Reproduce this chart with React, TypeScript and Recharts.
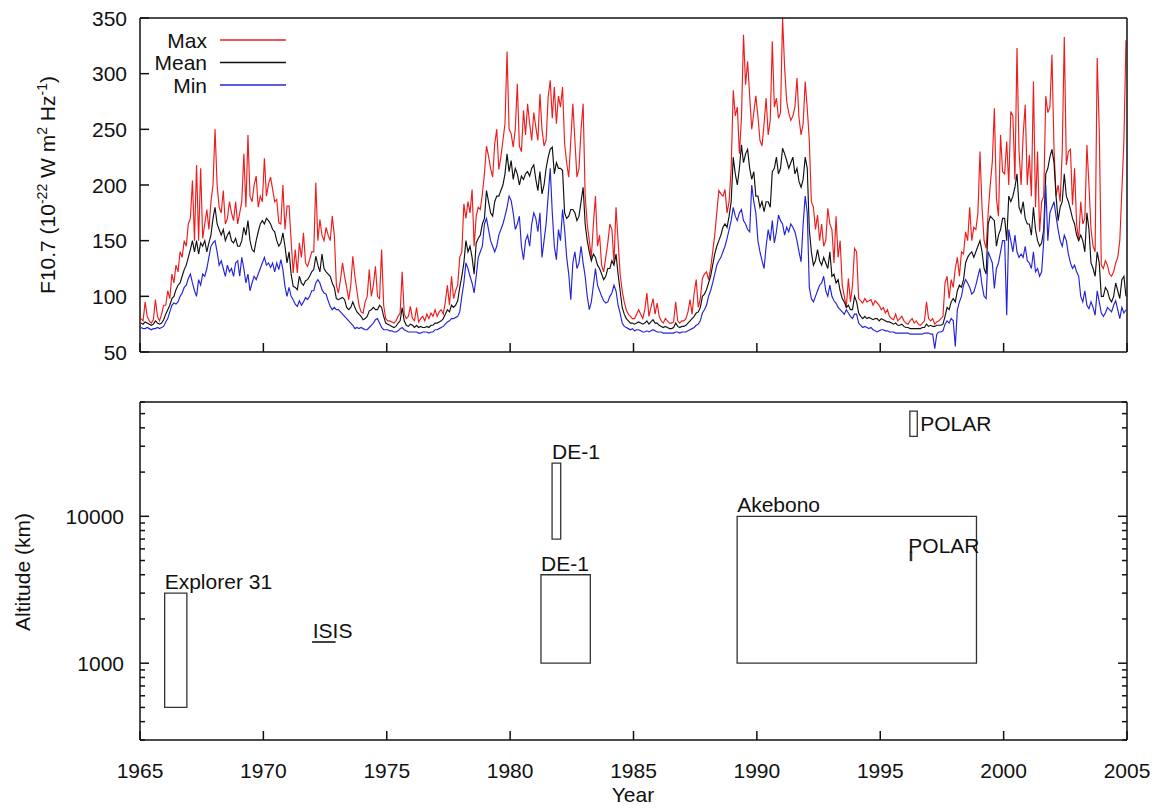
import React from 'react';
import { LineChart, Line, XAxis, YAxis, ComposedChart, ReferenceArea } from 'recharts';

const FONT = '"Liberation Sans", Arial, Helvetica, sans-serif';
const INK = '#111';

const yearTicks = [1965, 1970, 1975, 1980, 1985, 1990, 1995, 2000, 2005];
const fluxTicks = [50, 100, 150, 200, 250, 300, 350];
const altTicks = [
  300, 400, 500, 600, 700, 800, 900, 1000, 2000, 3000, 4000, 5000, 6000, 7000, 8000, 9000,
  10000, 20000, 30000, 40000, 50000, 60000,
];
const altLabelled = [1000, 10000];

// monthly F10.7, Jan 1965 .. Dec 2004, one row per year
const fMax = [
  80, 78, 95, 82, 78, 76, 79, 97, 82, 78, 84, 92, // 1965
  92, 105, 98, 120, 112, 128, 122, 140, 135, 150, 145, 165,
  170, 204, 150, 218, 150, 215, 152, 165, 178, 160, 185, 200,
  250, 200, 180, 175, 195, 165, 170, 185, 175, 168, 185, 165,
  175, 185, 228, 180, 245, 190, 185, 200, 208, 180, 190, 185,
  224, 190, 201, 207, 196, 185, 187, 166, 165, 200, 160, 181, // 1970
  181, 150, 121, 142, 121, 148, 135, 157, 130, 127, 133, 140,
  140, 202, 150, 169, 155, 150, 162, 155, 150, 172, 155, 110,
  103, 115, 130, 118, 108, 97, 110, 136, 118, 105, 92, 86,
  85, 95, 100, 124, 100, 110, 127, 100, 98, 142, 92, 80,
  78, 78, 77, 76, 78, 82, 85, 122, 84, 80, 82, 91, // 1975
  80, 78, 90, 77, 80, 82, 78, 84, 80, 85, 82, 88,
  82, 86, 88, 84, 95, 110, 92, 118, 98, 105, 110, 135,
  140, 183, 170, 185, 175, 196, 145, 172, 180, 178, 192, 210,
  235, 226, 215, 207, 237, 250, 214, 225, 240, 255, 320, 250,
  246, 234, 250, 291, 235, 230, 267, 245, 273, 255, 240, 265, // 1980
  252, 240, 282, 250, 235, 240, 279, 294, 260, 288, 255, 280,
  270, 288, 237, 220, 207, 240, 273, 240, 207, 215, 250, 273,
  190, 165, 150, 135, 165, 190, 145, 155, 128, 122, 135, 148,
  165, 160, 130, 180, 150, 120, 105, 95, 88, 84, 82, 80,
  80, 84, 88, 84, 80, 88, 103, 82, 90, 98, 84, 94, // 1985
  82, 78, 76, 80, 78, 76, 76, 77, 95, 78, 76, 78,
  78, 80, 86, 97, 84, 103, 115, 90, 98, 116, 120, 122,
  115, 125, 140, 155, 175, 195, 192, 190, 196, 175, 185, 215,
  285, 262, 270, 228, 260, 335, 290, 311, 280, 250, 265, 280,
  262, 240, 235, 255, 278, 245, 258, 329, 270, 278, 260, 265, // 1990
  350, 305, 275, 265, 258, 262, 270, 296, 260, 245, 255, 293,
  269, 240, 185, 180, 160, 173, 150, 165, 145, 150, 179, 165,
  160, 130, 172, 135, 150, 110, 100, 90, 116, 95, 110, 143,
  140, 98, 96, 94, 98, 95, 96, 97, 92, 96, 94, 92,
  88, 90, 85, 88, 82, 80, 79, 84, 78, 80, 82, 78, // 1995
  76, 75, 78, 80, 76, 78, 75, 74, 76, 78, 95, 80,
  78, 80, 75, 77, 78, 80, 82, 112, 118, 98, 115, 108,
  125, 135, 118, 140, 138, 158, 150, 180, 150, 162, 160, 175,
  230, 180, 150, 143, 176, 200, 221, 269, 188, 172, 245, 212,
  210, 239, 200, 266, 262, 205, 323, 230, 200, 245, 272, 200, // 2000
  227, 190, 293, 180, 230, 158, 185, 190, 280, 265, 270, 317,
  233, 190, 200, 185, 230, 333, 218, 230, 232, 182, 215, 165,
  150, 185, 165, 170, 236, 200, 160, 145, 140, 314, 250, 128,
  125, 132, 128, 120, 118, 122, 130, 135, 150, 195, 240, 330,
];

const fMean = [
  76, 75, 77, 76, 75, 74, 75, 78, 76, 75, 76, 79, // 1965
  84, 88, 92, 98, 100, 106, 110, 112, 118, 124, 128, 135,
  142, 150, 140, 150, 138, 148, 145, 150, 140, 148, 155, 170,
  180, 165, 160, 155, 160, 150, 155, 158, 150, 148, 152, 145,
  145, 150, 162, 155, 168, 150, 142, 140, 150, 158, 165, 168,
  165, 170, 168, 165, 160, 158, 150, 145, 148, 157, 145, 130, // 1970
  140, 120, 109, 108, 106, 118, 112, 110, 114, 115, 118, 122,
  124, 136, 128, 122, 138, 125, 122, 120, 118, 112, 108, 98,
  97, 98, 99, 97, 90, 88, 90, 95, 90, 86, 84, 82,
  79, 80, 82, 87, 88, 90, 88, 88, 92, 90, 82, 76,
  75, 74, 73, 72, 73, 76, 78, 90, 78, 74, 73, 75, // 1975
  74, 72, 74, 72, 73, 72, 72, 73, 72, 74, 74, 76,
  76, 77, 78, 80, 84, 88, 86, 92, 90, 92, 96, 108,
  118, 130, 150, 140, 145, 135, 120, 148, 152, 155, 165, 170,
  195, 185, 175, 172, 185, 190, 190, 195, 200, 210, 228, 212,
  222, 205, 215, 210, 200, 208, 205, 210, 212, 208, 215, 218, // 1980
  205, 195, 212, 192, 200, 215, 225, 232, 234, 210, 220, 215,
  215, 213, 175, 170, 172, 178, 178, 175, 168, 172, 185, 198,
  165, 150, 140, 132, 138, 135, 128, 125, 120, 115, 118, 125,
  125, 132, 128, 138, 120, 105, 90, 84, 80, 78, 76, 76,
  75, 76, 77, 76, 75, 76, 78, 75, 77, 79, 76, 76, // 1985
  74, 73, 72, 73, 72, 71, 71, 72, 76, 73, 72, 73,
  73, 74, 76, 78, 80, 82, 85, 86, 90, 100, 102, 106,
  112, 118, 128, 138, 145, 150, 155, 162, 165, 162, 172, 185,
  225, 210, 200, 215, 236, 220, 228, 232, 215, 205, 212, 190,
  190, 180, 185, 176, 185, 185, 180, 212, 215, 225, 210, 215, // 1990
  233, 228, 222, 215, 220, 225, 210, 215, 203, 198, 205, 225,
  215, 160, 140, 128, 132, 142, 132, 128, 135, 130, 125, 140,
  118, 120, 112, 115, 105, 98, 95, 90, 92, 88, 88, 100,
  95, 85, 82, 80, 82, 80, 81, 80, 79, 80, 80, 78,
  80, 79, 78, 77, 77, 76, 75, 76, 74, 74, 75, 73, // 1995
  72, 72, 71, 71, 71, 71, 71, 71, 72, 72, 75, 73,
  74, 73, 73, 74, 74, 74, 75, 82, 90, 88, 95, 98,
  95, 105, 110, 108, 115, 130, 135, 138, 140, 135, 140, 145,
  150, 140, 125, 120, 165, 172, 170, 168, 145, 155, 160, 170,
  170, 150, 190, 185, 190, 198, 210, 180, 175, 185, 170, 165, // 2000
  165, 155, 180, 160, 150, 145, 148, 160, 210, 215, 225, 232,
  220, 190, 168, 180, 185, 210, 190, 185, 178, 170, 165, 155,
  150, 155, 150, 140, 175, 160, 130, 125, 118, 140, 130, 100,
  100, 108, 105, 98, 95, 100, 112, 105, 98, 115, 118, 100,
];

const fMin = [
  72, 71, 71, 72, 71, 70, 71, 71, 72, 71, 72, 73, // 1965
  77, 80, 86, 92, 94, 93, 95, 100, 103, 108, 110, 116,
  120, 112, 105, 100, 115, 110, 120, 118, 125, 135, 145, 148,
  150, 140, 128, 132, 125, 118, 128, 122, 125, 118, 130, 132,
  118, 135, 125, 112, 120, 105, 112, 118, 115, 120, 125, 130,
  135, 128, 130, 126, 130, 122, 130, 124, 133, 124, 109, 100, // 1970
  108, 100, 97, 93, 91, 96, 92, 95, 99, 97, 100, 105,
  105, 112, 115, 112, 106, 103, 102, 96, 91, 88, 90, 88,
  88, 86, 84, 82, 80, 78, 76, 74, 71, 72, 71, 72,
  71, 70, 70, 72, 74, 76, 79, 80, 76, 72, 70, 70,
  70, 69, 69, 68, 68, 69, 71, 72, 70, 69, 68, 68, // 1975
  68, 68, 68, 67, 67, 68, 68, 68, 67, 68, 68, 70,
  70, 71, 72, 73, 75, 77, 78, 80, 80, 81, 82, 86,
  100, 112, 130, 125, 118, 112, 103, 118, 135, 140, 145, 165,
  170, 160, 150, 145, 140, 145, 155, 160, 165, 172, 180, 190,
  186, 175, 160, 165, 172, 145, 133, 150, 155, 145, 165, 175, // 1980
  170, 158, 175, 135, 150, 165, 190, 215, 175, 145, 133, 160,
  150, 178, 160, 135, 120, 97, 130, 140, 125, 130, 145, 130,
  118, 100, 88, 95, 110, 125, 110, 105, 100, 96, 94, 95,
  100, 103, 110, 105, 92, 85, 76, 73, 72, 71, 70, 71,
  69, 70, 70, 69, 68, 68, 69, 68, 69, 70, 69, 68, // 1985
  68, 68, 67, 67, 67, 67, 67, 67, 68, 68, 67, 68,
  68, 68, 69, 70, 71, 72, 74, 75, 78, 85, 88, 92,
  100, 105, 112, 120, 128, 132, 135, 140, 145, 152, 160, 168,
  180, 172, 168, 175, 178, 168, 165, 160, 158, 200, 185, 175,
  150, 140, 132, 125, 145, 160, 150, 168, 148, 158, 173, 168, // 1990
  165, 155, 162, 158, 165, 162, 158, 150, 140, 131, 165, 190,
  175, 108, 98, 95, 100, 105, 110, 112, 118, 105, 100, 110,
  100, 96, 94, 90, 88, 86, 84, 88, 85, 82, 80, 84,
  84, 76, 74, 72, 73, 72, 71, 72, 70, 69, 68, 69,
  70, 70, 69, 69, 68, 68, 68, 67, 67, 67, 67, 67, // 1995
  67, 67, 66, 66, 66, 66, 66, 66, 66, 67, 67, 67,
  66, 66, 53, 66, 68, 68, 69, 75, 78, 76, 80, 78,
  55, 88, 95, 100, 110, 115, 112, 108, 102, 104, 110, 118,
  125, 110, 100, 98, 140, 135, 130, 107, 125, 130, 140, 150,
  150, 83, 160, 150, 140, 155, 140, 135, 138, 135, 145, 132, // 2000
  130, 125, 140, 122, 125, 118, 122, 150, 200, 150, 175, 180,
  185, 172, 160, 150, 145, 155, 150, 138, 130, 125, 128, 122,
  118, 100, 95, 105, 92, 89, 95, 90, 83, 105, 95, 85,
  82, 85, 90, 88, 86, 92, 96, 88, 80, 90, 85, 88,
];

// observation windows: years and altitude range (km)
const missions = [
  { name: 'Explorer 31', from: 1966.0, to: 1966.9, low: 500, high: 3000 },
  { name: 'ISIS', from: 1972.0, to: 1972.9, low: 1388, high: 1400 },
  { name: 'DE-1', from: 1981.7, to: 1982.05, low: 7000, high: 23000 },
  { name: 'DE-1', from: 1981.25, to: 1983.25, low: 1000, high: 4000 },
  { name: 'Akebono', from: 1989.2, to: 1998.9, low: 1000, high: 10000 },
  { name: 'POLAR', from: 1996.2, to: 1996.5, low: 35000, high: 52000 },
  { name: 'POLAR', from: 1996.22, to: 1996.27, low: 5000, high: 5700 },
];
const labelSide = ['above', 'above', 'above', 'above', 'above', 'right', 'over'];

const rows = fMean.map((_, i) => ({
  t: 1965 + (i + 0.5) / 12,
  max: fMax[i],
  mean: fMean[i],
  min: fMin[i],
}));

const txt = { fontFamily: FONT, fontSize: 21, fill: INK };

const BottomTick = ({ x, y, payload, showLabel }: any) => (
  <g>
    <line x1={x} y1={y} x2={x} y2={y - 9} stroke={INK} strokeWidth={1.5} />
    {showLabel && (
      <text x={x} y={y + 38} textAnchor="middle" {...txt}>
        {payload.value}
      </text>
    )}
  </g>
);

const TopTick = ({ x, y }: any) => (
  <line x1={x} y1={y} x2={x} y2={y + 9} stroke={INK} strokeWidth={1.5} />
);

const LeftTick = ({ x, y, payload, log, gap }: any) => {
  const major = !log || altLabelled.includes(payload.value);
  return (
    <g>
      <line x1={x} y1={y} x2={x + (major ? 9 : 5)} y2={y} stroke={INK} strokeWidth={1.5} />
      {major && (
        <text x={x - gap} y={y + 7.5} textAnchor="end" {...txt}>
          {payload.value}
        </text>
      )}
    </g>
  );
};

const RightTick = ({ x, y, payload, log }: any) => {
  const major = !log || altLabelled.includes(payload.value);
  return <line x1={x} y1={y} x2={x - (major ? 9 : 5)} y2={y} stroke={INK} strokeWidth={1.5} />;
};

const MissionLabel = ({ viewBox, text, side }: any) => {
  if (!viewBox) return null;
  const { x, y, width, height } = viewBox;
  let tx = x;
  let ty = y - 4;
  if (side === 'right') {
    tx = x + width + 3;
    ty = y + height / 2 + 7;
  }
  if (side === 'over') {
    tx = x - 2;
    ty = y + 1;
  }
  return (
    <text x={tx} y={ty} {...txt}>
      {text}
    </text>
  );
};

const axisLine = { stroke: INK, strokeWidth: 1.5 };

function FluxPanel() {
  const legend = [
    { label: 'Max', color: '#ee1c1c' },
    { label: 'Mean', color: '#111111' },
    { label: 'Min', color: '#2323d8' },
  ];
  return (
    <LineChart width={1161} height={380} data={rows} margin={{ top: 17, right: 33, bottom: 27, left: 0 }}>
      <XAxis xAxisId="b" dataKey="t" type="number" domain={[1965, 2005]} ticks={yearTicks} interval={0}
        height={1} tickSize={0} tickMargin={0} tickLine={false} axisLine={axisLine} tick={<BottomTick />} />
      <XAxis xAxisId="t" orientation="top" type="number" domain={[1965, 2005]} ticks={yearTicks} interval={0}
        height={1} tickSize={0} tickMargin={0} tickLine={false} axisLine={axisLine} tick={<TopTick />} />
      <YAxis yAxisId="l" type="number" domain={[50, 350]} ticks={fluxTicks} interval={0} width={140}
        tickSize={0} tickMargin={0} tickLine={false} axisLine={axisLine} tick={<LeftTick gap={13} />} />
      <YAxis yAxisId="r" orientation="right" type="number" domain={[50, 350]} ticks={fluxTicks} interval={0}
        width={1} tickSize={0} tickMargin={0} tickLine={false} axisLine={axisLine} tick={<RightTick />} />
      <Line xAxisId="b" yAxisId="l" type="linear" dataKey="max" stroke="#ee1c1c" strokeWidth={1.15} dot={false} isAnimationActive={false} />
      <Line xAxisId="b" yAxisId="l" type="linear" dataKey="mean" stroke="#111111" strokeWidth={1.15} dot={false} isAnimationActive={false} />
      <Line xAxisId="b" yAxisId="l" type="linear" dataKey="min" stroke="#2323d8" strokeWidth={1.15} dot={false} isAnimationActive={false} />
      <g>
        {legend.map((s, i) => (
          <g key={s.label}>
            <text x={207} y={47.5 + i * 22.5} textAnchor="end" {...txt}>{s.label}</text>
            <line x1={220} x2={286} y1={40 + i * 22.5} y2={40 + i * 22.5} stroke={s.color} strokeWidth={1.3} />
          </g>
        ))}
        <text transform="rotate(-90 55 185)" x={55} y={185} textAnchor="middle" {...txt}>
          F10.7 (10<tspan dy={-8} fontSize={14}>-22</tspan>
          <tspan dy={8}> W m</tspan>
          <tspan dy={-8} fontSize={14}>2</tspan>
          <tspan dy={8}> Hz</tspan>
          <tspan dy={-8} fontSize={14}>-1</tspan>
          <tspan dy={8}>)</tspan>
        </text>
      </g>
    </LineChart>
  );
}

function AltitudePanel() {
  return (
    <ComposedChart width={1161} height={430} data={missions} margin={{ top: 21, right: 33, bottom: 69, left: 0 }}>
      <XAxis xAxisId="b" dataKey="from" type="number" domain={[1965, 2005]} ticks={yearTicks} interval={0} allowDataOverflow
        height={1} tickSize={0} tickMargin={0} tickLine={false} axisLine={axisLine} tick={<BottomTick showLabel />} />
      <XAxis xAxisId="t" orientation="top" type="number" domain={[1965, 2005]} ticks={yearTicks} interval={0} allowDataOverflow
        height={1} tickSize={0} tickMargin={0} tickLine={false} axisLine={axisLine} tick={<TopTick />} />
      <YAxis yAxisId="l" type="number" scale="log" domain={[300, 60000]} ticks={altTicks} interval={0} allowDataOverflow
        width={140} tickSize={0} tickMargin={0} tickLine={false} axisLine={axisLine} tick={<LeftTick log gap={16} />} />
      <YAxis yAxisId="r" orientation="right" type="number" scale="log" domain={[300, 60000]} ticks={altTicks} interval={0} allowDataOverflow
        width={1} tickSize={0} tickMargin={0} tickLine={false} axisLine={axisLine} tick={<RightTick log />} />
      {missions.map((m, i) => (
        <ReferenceArea key={i} xAxisId="b" yAxisId="l" x1={m.from} x2={m.to} y1={m.low} y2={m.high}
          ifOverflow="visible" fill="none" fillOpacity={0} stroke="#333" strokeWidth={1.3}
          label={<MissionLabel text={m.name} side={labelSide[i]} />} />
      ))}
      <g>
        <text transform="rotate(-90 30 192)" x={30} y={192} textAnchor="middle" {...txt}>Altitude (km)</text>
        <text x={633} y={422} textAnchor="middle" {...txt}>Year</text>
      </g>
    </ComposedChart>
  );
}

export default function App() {
  return (
    <div style={{ position: 'absolute', left: 0, top: 0, width: 1161, height: 810, background: '#fff' }}>
      <div style={{ position: 'absolute', left: 0, top: 0 }}>
        <FluxPanel />
      </div>
      <div style={{ position: 'absolute', left: 0, top: 380 }}>
        <AltitudePanel />
      </div>
    </div>
  );
}
